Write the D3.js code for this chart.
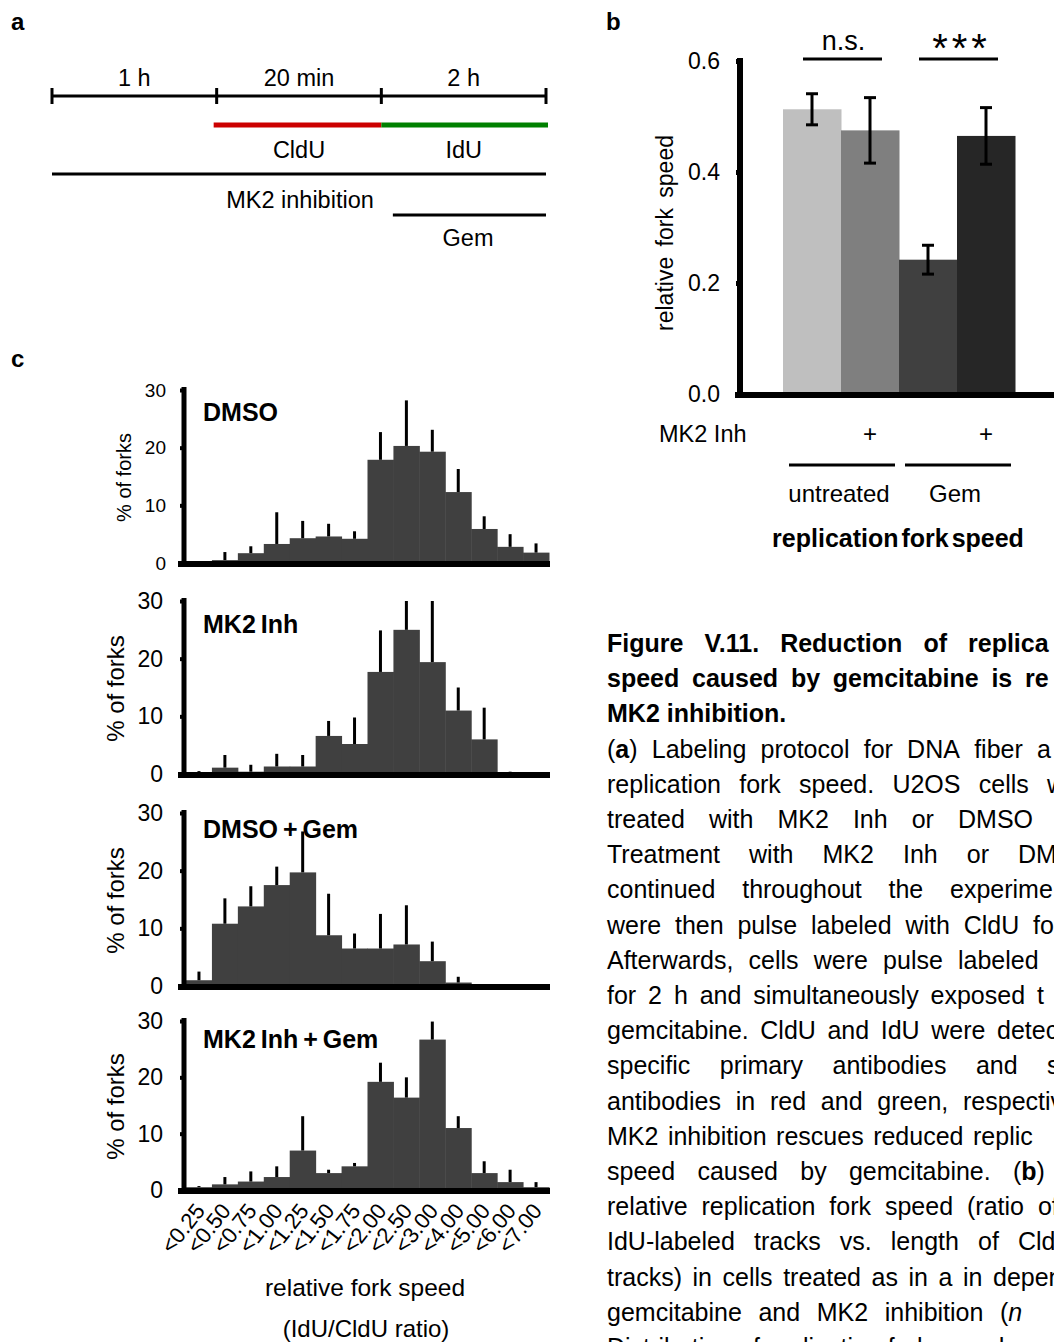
<!DOCTYPE html>
<html lang="en">
<head>
<meta charset="UTF-8">
<title>Figure V.11</title>
<style>
  body { margin: 0; background: #fff; }
  svg { display: block; }
  svg text { font-family: "Liberation Sans", Arial, sans-serif; fill: #000; }
</style>
</head>
<body>
<div id="fig"></div>
<script src="https://cdnjs.cloudflare.com/ajax/libs/d3/7.8.5/d3.min.js"></script>
<script>
// ---------- data ----------
// panel a: labelling protocol
var steps = ["1 h", "20 min", "2 h"];
var labels = ["CldU", "IdU"];

// panel b: mean relative fork speed +- error
var conditions = ["untreated", "untreated + MK2 Inh", "Gem", "Gem + MK2 Inh"];
var forkMean = [0.513, 0.475, 0.242, 0.465];
var forkErr  = [0.028, 0.059, 0.026, 0.051];
var mk2Marks = ["", "+", "", "+"];
var groups = ["untreated", "Gem"];
var signif = ["n.s.", "***"];
var barColors = ["#bfbfbf", "#7f7f7f", "#404040", "#262626"];

// panel c: distribution of fork speed (% of forks), mean and upper error
var bins = ["<0.25", "<0.50", "<0.75", "<1.00", "<1.25", "<1.50", "<1.75",
            "<2.00", "<2.50", "<3.00", "<4.00", "<5.00", "<6.00", "<7.00"];
var histNames = ["DMSO", "MK2 Inh", "DMSO + Gem", "MK2 Inh + Gem"];
var dmsoMean    = [0, 0.5, 1.7, 3.3, 4.3, 4.6, 4.2, 17.9, 20.3, 19.3, 12.3, 5.9, 2.8, 1.8];
var dmsoSd      = [0, 1.4, 1.2, 5.5, 3.0, 2.2, 1.3, 4.8, 7.9, 3.8, 4.0, 2.2, 2.2, 1.6];
var mk2Mean     = [0.2, 1.1, 0.4, 1.3, 1.3, 6.6, 5.2, 17.7, 25.0, 19.4, 11.0, 6.0, 0.1, 0];
var mk2Sd       = [0.3, 2.2, 1.2, 2.2, 2.0, 2.6, 4.6, 7.2, 5.0, 10.6, 4.0, 5.5, 0.3, 0];
var gemMean     = [1.0, 10.8, 13.8, 17.5, 19.7, 8.8, 6.5, 6.5, 7.2, 4.3, 0.6, 0, 0, 0];
var gemSd       = [1.5, 4.4, 3.5, 3.2, 7.1, 7.2, 2.6, 6.0, 6.8, 3.4, 1.0, 0, 0, 0];
var mk2GemMean  = [0.5, 1.0, 1.5, 2.3, 7.0, 3.0, 4.2, 19.2, 16.4, 26.7, 11.0, 3.0, 1.4, 0.5];
var mk2GemSd    = [0.2, 1.3, 1.8, 1.9, 6.1, 0.6, 0.6, 3.4, 3.6, 3.2, 2.1, 2.1, 2.2, 0.9];
var histTicks = [0, 10, 20, 30];

// caption (right column, as much as is visible before the page edge)
var captionLines = [
  "Figure V.11. Reduction of replica",
  "speed caused by gemcitabine is re",
  "MK2 inhibition.",
  "(*a*) Labeling protocol for DNA fiber a",
  "replication fork speed. U2OS cells w",
  "treated with MK2 Inh or DMSO",
  "Treatment with MK2 Inh or DM",
  "continued throughout the experime",
  "were then pulse labeled with CldU fo",
  "Afterwards, cells were pulse labeled",
  "for 2 h and simultaneously exposed t",
  "gemcitabine. CldU and IdU were detec",
  "specific primary antibodies and s",
  "antibodies in red and green, respectiv",
  "MK2 inhibition rescues reduced replic",
  "speed caused by gemcitabine. (*b*)",
  "relative replication fork speed (ratio of",
  "IdU-labeled tracks vs. length of Cld",
  "tracks) in cells treated as in a in depen",
  "gemcitabine and MK2 inhibition (_n_",
  "Distribution of replication fork speed"
];

// ---------- layout ----------
var W = 1054, H = 1342;
var svg = d3.select("#fig").append("svg").attr("width", W).attr("height", H);

function txt(g, x, y, s, size, opts) {
  opts = opts || {};
  return g.append("text").attr("x", x).attr("y", y).text(s)
    .attr("font-size", size)
    .attr("font-weight", opts.bold ? "bold" : null)
    .attr("text-anchor", opts.anchor || "start")
    .attr("fill", opts.fill || "#000");
}

// panel letters
txt(svg, 11, 30, "a", 24, {bold: true});
txt(svg, 606, 30, "b", 24, {bold: true});
txt(svg, 11, 367, "c", 24, {bold: true});

// ---------- panel a ----------
(function () {
  var g = svg.append("g");
  var t = d3.scaleLinear().domain([0, 3]).range([52, 546]);
  var ty = 96, fs = 23.5;
  g.append("line").attr("x1", t(0)).attr("x2", t(3)).attr("y1", ty).attr("y2", ty)
    .attr("stroke", "#000").attr("stroke-width", 3);
  g.selectAll("line.tk").data(d3.range(4)).enter().append("line")
    .attr("x1", d => t(d)).attr("x2", d => t(d)).attr("y1", ty - 8).attr("y2", ty + 8)
    .attr("stroke", "#000").attr("stroke-width", 3);
  g.selectAll("text.st").data(steps).enter().append("text")
    .attr("x", (d, i) => t(i + 0.5)).attr("y", 86).text(d => d)
    .attr("font-size", fs).attr("text-anchor", "middle");
  // CldU / IdU pulses
  var pulseColors = ["#cc0000", "#008000"];
  g.selectAll("line.pl").data(labels).enter().append("line")
    .attr("x1", (d, i) => t(i + 1) - (i === 0 ? 3 : 0)).attr("x2", (d, i) => t(i + 2) + (i === 1 ? 2 : 0))
    .attr("y1", 125).attr("y2", 125)
    .attr("stroke", (d, i) => pulseColors[i]).attr("stroke-width", 5);
  g.selectAll("text.pl").data(labels).enter().append("text")
    .attr("x", (d, i) => t(i + 1.5)).attr("y", 158).text(d => d)
    .attr("font-size", fs).attr("text-anchor", "middle");
  // MK2 inhibition
  g.append("line").attr("x1", t(0)).attr("x2", t(3)).attr("y1", 174).attr("y2", 174)
    .attr("stroke", "#000").attr("stroke-width", 3);
  txt(g, 300, 208, "MK2 inhibition", fs, {anchor: "middle"});
  // Gem
  g.append("line").attr("x1", t(2.07)).attr("x2", t(3)).attr("y1", 215).attr("y2", 215)
    .attr("stroke", "#000").attr("stroke-width", 3);
  txt(g, 468, 246, "Gem", fs, {anchor: "middle"});
})();

// ---------- panel b ----------
(function () {
  var g = svg.append("g");
  var x = d3.scaleBand().domain(conditions).range([783, 1015]).padding(0);
  var y = d3.scaleLinear().domain([0, 0.6]).range([394, 61]);
  var cx = d => x(d) + x.bandwidth() / 2;

  g.selectAll("rect").data(conditions).enter().append("rect")
    .attr("x", d => x(d)).attr("width", x.bandwidth() + 0.5)
    .attr("y", (d, i) => y(forkMean[i])).attr("height", (d, i) => y(0) - y(forkMean[i]))
    .attr("fill", (d, i) => barColors[i]);

  var eb = g.selectAll("g.err").data(conditions).enter().append("g")
    .attr("stroke", "#000").attr("stroke-width", 3);
  eb.append("line").attr("x1", cx).attr("x2", cx)
    .attr("y1", (d, i) => y(forkMean[i] - forkErr[i])).attr("y2", (d, i) => y(forkMean[i] + forkErr[i]));
  [-1, 1].forEach(function (s) {
    eb.append("line").attr("x1", d => cx(d) - 6).attr("x2", d => cx(d) + 6)
      .attr("y1", (d, i) => y(forkMean[i] + s * forkErr[i])).attr("y2", (d, i) => y(forkMean[i] + s * forkErr[i]));
  });

  var ax = g.append("g").attr("transform", "translate(740,0)")
    .call(d3.axisLeft(y).tickValues([0, 0.2, 0.4, 0.6]).tickFormat(d3.format(".1f"))
      .tickSize(4).tickSizeOuter(0).tickPadding(16));
  ax.attr("font-family", null).attr("font-size", null);
  ax.select(".domain").attr("stroke-width", 6).attr("d", "M0," + (y(0) + 3) + "V" + (y(0.6) - 3));
  ax.selectAll(".tick line").attr("stroke-width", 5);
  ax.selectAll(".tick text").attr("font-size", 23).attr("fill", "#000");

  g.append("line").attr("x1", 735).attr("x2", 1060).attr("y1", y(0) + 1).attr("y2", y(0) + 1)
    .attr("stroke", "#000").attr("stroke-width", 6);

  g.append("text").attr("transform", "translate(673,233) rotate(-90)")
    .attr("text-anchor", "middle").attr("font-size", 23).attr("word-spacing", 4)
    .text("relative fork speed");

  // significance
  [[0, 1], [2, 3]].forEach(function (p, k) {
    var a = cx(conditions[p[0]]) - 9, b = cx(conditions[p[1]]) + 12;
    g.append("line").attr("x1", a).attr("x2", b).attr("y1", 59).attr("y2", 59)
      .attr("stroke", "#000").attr("stroke-width", 3);
    if (k === 0) txt(g, (a + b) / 2 + 1, 50, signif[k], 27, {anchor: "middle"});
    else txt(g, (a + b) / 2 + 3, 62, signif[k], 40, {anchor: "middle"}).attr("letter-spacing", 4);
  });

  // MK2 Inh row
  txt(g, 659, 442, "MK2 Inh", 23.5);
  g.selectAll("text.pm").data(conditions).enter().append("text")
    .attr("x", cx).attr("y", 442).text((d, i) => mk2Marks[i])
    .attr("font-size", 24).attr("text-anchor", "middle");

  // treatment groups
  groups.forEach(function (gname, k) {
    var a = x(conditions[2 * k]) + 6, b = x(conditions[2 * k + 1]) + x.bandwidth() - 4;
    g.append("line").attr("x1", a).attr("x2", b).attr("y1", 465).attr("y2", 465)
      .attr("stroke", "#000").attr("stroke-width", 3);
    txt(g, (a + b) / 2 - 3, 502, gname, 24, {anchor: "middle"});
  });
  txt(g, 898, 547, "replication fork speed", 25, {bold: true, anchor: "middle"}).attr("word-spacing", -4);
})();

// ---------- panel c ----------
(function () {
  var series = [[dmsoMean, dmsoSd], [mk2Mean, mk2Sd], [gemMean, gemSd], [mk2GemMean, mk2GemSd]];
  var yRange = [[563, 390], [774, 601], [986, 813], [1190, 1021]];
  var labelY = [421, 633, 838, 1048];
  var x = d3.scaleBand().domain(bins).range([186, 549]).padding(0);
  var cx = d => x(d) + x.bandwidth() / 2;

  series.forEach(function (s, k) {
    var mean = s[0], sd = s[1];
    var y = d3.scaleLinear().domain([0, 30]).range(yRange[k]);
    var g = svg.append("g");
    var small = k === 0;

    g.selectAll("rect").data(bins).enter().append("rect")
      .attr("x", d => x(d)).attr("width", x.bandwidth() + 0.5)
      .attr("y", (d, i) => y(mean[i])).attr("height", (d, i) => y(0) - y(mean[i]))
      .attr("fill", "#404040");

    g.selectAll("line.err").data(bins.filter((d, i) => sd[i] > 0)).enter().append("line")
      .attr("x1", cx).attr("x2", cx)
      .attr("y1", d => y(mean[bins.indexOf(d)])).attr("y2", d => y(mean[bins.indexOf(d)] + sd[bins.indexOf(d)]))
      .attr("stroke", "#000").attr("stroke-width", 3);

    var ax = g.append("g").attr("transform", "translate(184,0)")
      .call(d3.axisLeft(y).tickValues(histTicks).tickSize(4).tickSizeOuter(0).tickPadding(small ? 14 : 17));
    ax.attr("font-family", null).attr("font-size", null);
    ax.select(".domain").attr("stroke-width", 5).attr("d", "M0," + (y(0) + 3) + "V" + (y(30) - 3));
    ax.selectAll(".tick line").attr("stroke-width", 4);
    ax.selectAll(".tick text").attr("font-size", small ? 19 : 23).attr("fill", "#000");

    g.append("line").attr("x1", 178).attr("x2", 550).attr("y1", y(0) + 1).attr("y2", y(0) + 1)
      .attr("stroke", "#000").attr("stroke-width", 6);

    var lx = small ? 131 : 124, ly = (y(0) + y(30)) / 2 + 1;
    g.append("text").attr("transform", "translate(" + lx + "," + ly + ") rotate(-90)")
      .attr("text-anchor", "middle").attr("font-size", small ? 20 : 24)
      .attr("fill", small ? "#333" : "#000").text("% of forks");

    txt(g, 203, labelY[k], histNames[k], 25, {bold: true}).attr("word-spacing", -2);

    if (k === series.length - 1) {
      g.selectAll("text.xl").data(bins).enter().append("text")
        .attr("transform", d => "translate(" + (cx(d) + 7) + "," + (y(0) + 21) + ") rotate(-52)")
        .attr("text-anchor", "end").attr("font-size", 22).text(d => d);
      txt(g, 365, 1296, "relative fork speed", 24.5, {anchor: "middle"});
      txt(g, 366, 1337, "(IdU/CldU ratio)", 24, {anchor: "middle"});
    }
  });
})();

// ---------- caption ----------
(function () {
  var g = svg.append("g");
  var left = 607, base = 652, lead = 35.2, size = 25;
  // index of the word whose start is pinned (justified text), -1 = natural spacing
  var anchorWord = [4, 5, -1, 6, 5, 5, 5, 3, 6, 4, 6, 5, 4, 5, 4, 4, 4, 5, 8, 4, -1];
  var anchorX = [968, 1025, 0, 1037, 1047, 958, 1018, 950, 1033, 958, 1037, 997, 1047, 963, 973, 1013, 967, 1018, 993, 1000, 0];

  function addWord(parent, word, bold) {
    var t = parent.append("text").attr("font-size", size).attr("font-weight", bold ? "bold" : null);
    word.split(/(\*[^*]+\*|_[^_]+_)/).filter(p => p.length).forEach(function (p) {
      var ts = t.append("tspan");
      if (p[0] === "*") ts.attr("font-weight", "bold").text(p.slice(1, -1));
      else if (p[0] === "_") ts.attr("font-style", "italic").text(p.slice(1, -1));
      else ts.text(p);
    });
    return t;
  }

  var spaceW = (function () {
    var t = g.append("text").attr("font-size", size).text("a a");
    var t2 = g.append("text").attr("font-size", size).text("aa");
    var w = t.node().getComputedTextLength() - t2.node().getComputedTextLength();
    t.remove(); t2.remove();
    return w;
  })();

  captionLines.forEach(function (line, i) {
    var bold = i < 3;
    var words = line.split(" ");
    var nodes = words.map(w => addWord(g, w, bold));
    var widths = nodes.map(n => n.node().getComputedTextLength());
    var k = anchorWord[i], gap = spaceW;
    if (k > 0) {
      var before = d3.sum(widths.slice(0, k));
      gap = Math.max(spaceW * 0.8, (anchorX[i] - left - before) / k);
    }
    var xx = left;
    nodes.forEach(function (n, j) {
      n.attr("x", xx).attr("y", base + lead * i);
      xx += widths[j] + gap;
    });
  });
})();
</script>
</body>
</html>
